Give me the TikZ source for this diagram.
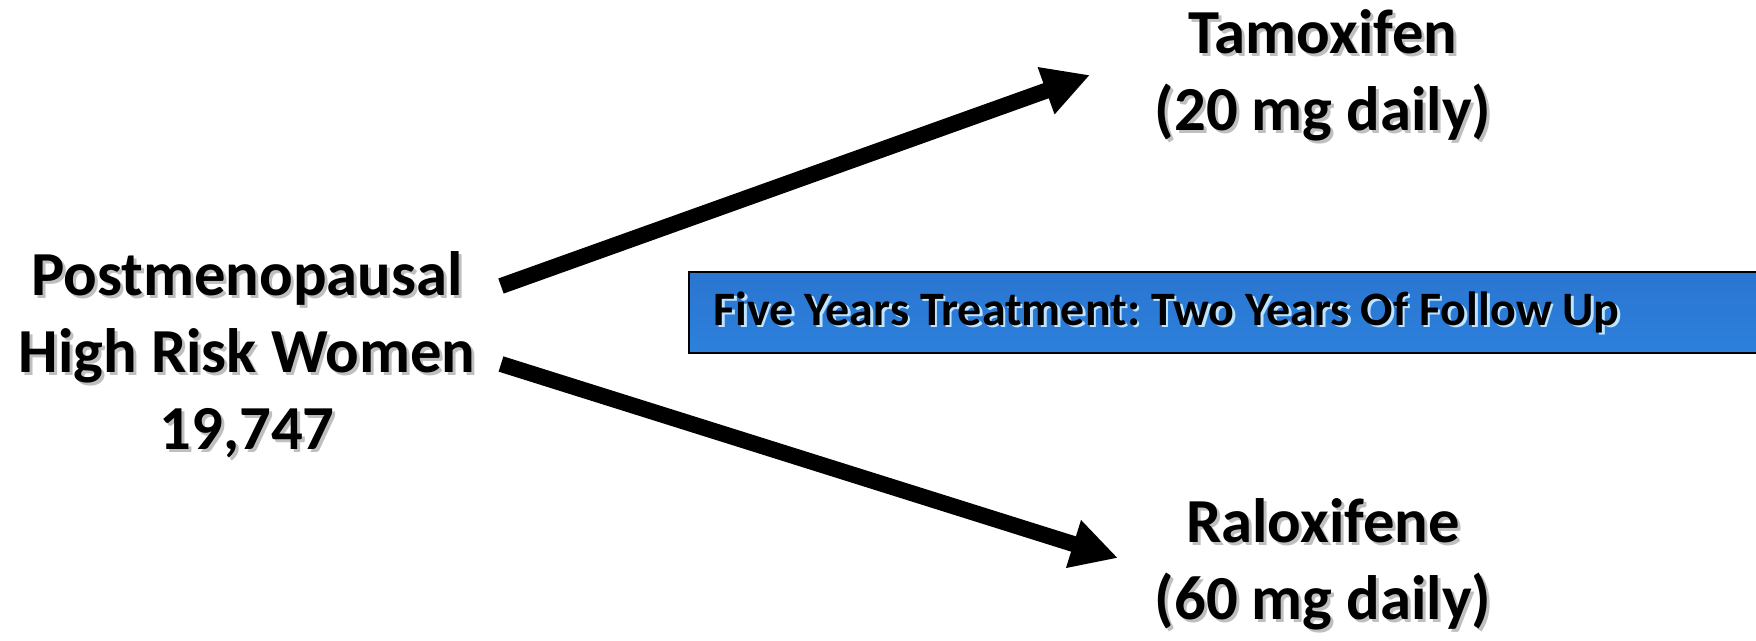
\documentclass[tikz,border=0pt]{standalone}
\usepackage{fontspec}
\setmainfont{Carlito}
\usetikzlibrary{arrows.meta}
\frenchspacing

\tikzset{every picture/.style={line width=0.75pt}}
\tikzset{
  lbl/.style={font=\fontsize{47}{57.75}\selectfont\bfseries, align=center, inner sep=0pt, anchor=base},
  lblshade/.style={lbl, text=black!25},
  barlbl/.style={font=\fontsize{36}{40}\selectfont\bfseries, inner sep=0pt, anchor=base west},
  bigarrow/.style={line width=12pt, -{Triangle[length=35pt,width=35pt]}},
}

\begin{document}
\begin{tikzpicture}[x=0.75pt,y=0.75pt,yscale=-1,xscale=1]
\useasboundingbox (0,0) rectangle (1756,640);
\clip (0,0) rectangle (1756,640);

%Bar: treatment period
\draw [line width=2, top color={rgb,255:red,42;green,118;blue,208}, middle color={rgb,255:red,56;green,158;blue,255}, bottom color={rgb,255:red,44;green,128;blue,220}] (689,272) rectangle (1775,353);
\node [barlbl, text={rgb,255:red,190;green,228;blue,255}] at (715.5,327.5) {Five Years Treatment: Two Years Of Follow Up};
\node [barlbl] (bar) at (713,325) {Five Years Treatment: Two Years Of Follow Up};

%Text: population
\node [lblshade] at (250,452) {Postmenopausal\\High Risk Women\\19,747};
\node [lbl] (src) at (247,449) {Postmenopausal\\High Risk Women\\19,747};

%Text: arms
\node [lblshade] at (1326,133) {Tamoxifen\\(20 mg daily)};
\node [lbl] (tam) at (1323,130) {Tamoxifen\\(20 mg daily)};
\node [lblshade] at (1326,622) {Raloxifene\\(60 mg daily)};
\node [lbl] (ral) at (1323,619) {Raloxifene\\(60 mg daily)};

%Arrows: randomisation
\coordinate (srcup) at (501,286);
\coordinate (srcdown) at (501,364);
\coordinate (tamin) at (1090,75);
\coordinate (ralin) at (1118,558);
\draw [bigarrow] (srcup) -- (tamin);
\draw [bigarrow] (srcdown) -- (ralin);

\end{tikzpicture}
\end{document}
